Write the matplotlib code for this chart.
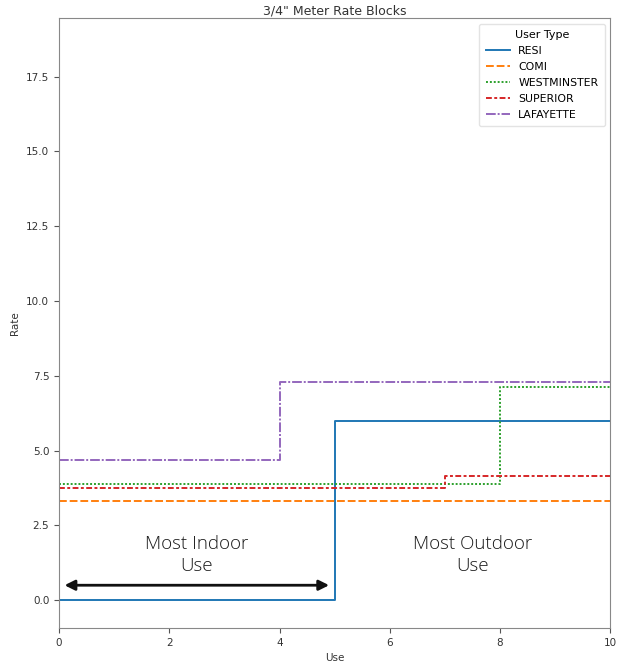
import numpy as np
import matplotlib.pyplot as plt

# block rates by use (thousands of gallons) for each user type
use = [0, 4, 5, 7, 8, 10]
resi = [0.0, 0.0, 5.98, 5.98, 5.98, 5.98]
comi = [3.31, 3.31, 3.31, 3.31, 3.31, 3.31]
westminster = [3.88, 3.88, 3.88, 3.88, 7.11, 7.11]
superior = [3.76, 3.76, 3.76, 4.15, 4.15, 4.15]
lafayette = [4.69, 7.28, 7.28, 7.28, 7.28, 7.28]
user_types = ['RESI', 'COMI', 'WESTMINSTER', 'SUPERIOR', 'LAFAYETTE']

series = [resi, comi, westminster, superior, lafayette]
colors = ['#1f77b4', '#ff7f0e', '#2ca02c', '#d62728', '#9467bd']
dashes = [(), (4, 1.5), (1, 1), (3, 1.25, 1.5, 1.25), (5, 1, 1, 1)]

fig = plt.figure(figsize=(6.18, 6.65), dpi=100)
ax = fig.add_axes([0.0955, 0.0556, 0.892, 0.917])

for y, c, d, lab in zip(series, colors, dashes, user_types):
    line, = ax.plot(use, y, drawstyle='steps-post', color=c, lw=1.4, label=lab)
    if d:
        line.set_dashes(d)

ax.set_xlim(0, 10)
ax.set_ylim(-0.93, 19.45)
ax.set_yticks(np.arange(0, 18, 2.5))
ax.tick_params(labelsize=7.5, color='#555555', labelcolor='#333333')
for s in ax.spines.values():
    s.set_color('#888888')
ax.set_xlabel('Use', fontsize=7.5, color='#333333')
ax.set_ylabel('Rate', fontsize=7.5, color='#333333')
ax.set_title('3/4" Meter Rate Blocks', fontsize=9, color='#333333', pad=3)

leg = ax.legend(title='User Type', loc='upper right', fontsize=7.8, title_fontsize=8,
                labelspacing=0.55, borderpad=0.6, handlelength=2.2)
leg.get_frame().set_edgecolor('#dddddd')

# indoor / outdoor use regions
ax.annotate('', xy=(4.95, 0.5), xytext=(0.05, 0.5),
            arrowprops=dict(arrowstyle='<|-|>', color='#111111', lw=2, mutation_scale=15))
for xc, txt in [(2.5, 'Most Indoor\nUse'), (7.5, 'Most Outdoor\nUse')]:
    ax.text(xc, 1.5, txt, ha='center', va='center', fontsize=13.5, color='#1a1a1a',
            family='Open Sans', fontweight='light', linespacing=1.3)

fig.savefig('out.png', dpi=100)
